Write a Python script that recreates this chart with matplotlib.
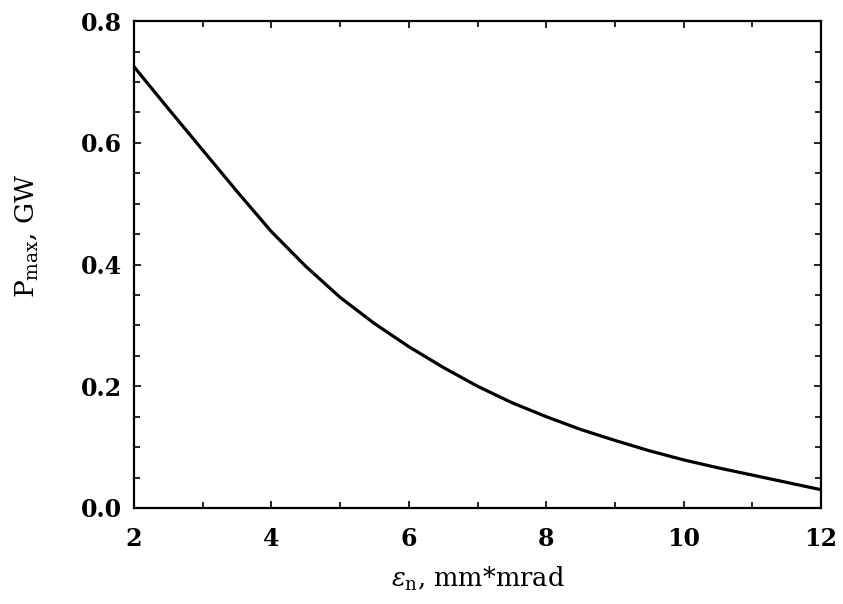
import numpy as np
import matplotlib
matplotlib.use('Agg')
from matplotlib import pyplot as plt
from matplotlib.ticker import MultipleLocator, FormatStrFormatter

# emittance (mm*mrad) and peak power (GW)
emittance = [2.0, 2.5, 3.0, 3.5, 4.0, 4.5, 5.0, 5.5, 6.0, 6.5, 7.0,
             7.5, 8.0, 8.5, 9.0, 9.5, 10.0, 10.5, 11.0, 11.5, 12.0]
p_max = [0.725, 0.656, 0.588, 0.520, 0.454, 0.397, 0.346, 0.303, 0.265, 0.231, 0.200,
         0.173, 0.150, 0.129, 0.111, 0.094, 0.079, 0.066, 0.054, 0.042, 0.030]

plt.rcParams['font.family'] = 'DejaVu Serif'
plt.rcParams['mathtext.fontset'] = 'dejavuserif'

fig = plt.figure(figsize=(8.43, 6.04), dpi=100)
ax = fig.add_axes([0.159, 0.159, 0.815, 0.806])

ax.plot(emittance, p_max, color='black', linewidth=2.3)

ax.set_xlim(2, 12)
ax.set_ylim(0, 0.8)
ax.xaxis.set_major_locator(MultipleLocator(2))
ax.xaxis.set_minor_locator(MultipleLocator(1))
ax.yaxis.set_major_locator(MultipleLocator(0.2))
ax.yaxis.set_minor_locator(MultipleLocator(0.05))
ax.yaxis.set_major_formatter(FormatStrFormatter('%.1f'))

for s in ax.spines.values():
    s.set_linewidth(1.6)
ax.tick_params(which='both', direction='in', top=True, right=True, width=1.2)
ax.tick_params(which='major', length=5, labelsize=17)
ax.tick_params(which='minor', length=4)
ax.tick_params(axis='x', which='major', pad=14)
ax.tick_params(axis='y', which='major', pad=9)
for lab in ax.get_xticklabels() + ax.get_yticklabels():
    lab.set_fontweight('bold')

ax.set_xlabel(r'$\varepsilon_\mathrm{n}$, mm*mrad', fontsize=18.5, labelpad=10)
ax.set_ylabel(r'P$_\mathrm{max}$, GW', fontsize=19, labelpad=12)
ax.yaxis.set_label_coords(-0.135, 0.56)

fig.savefig('out.png', dpi=100)
